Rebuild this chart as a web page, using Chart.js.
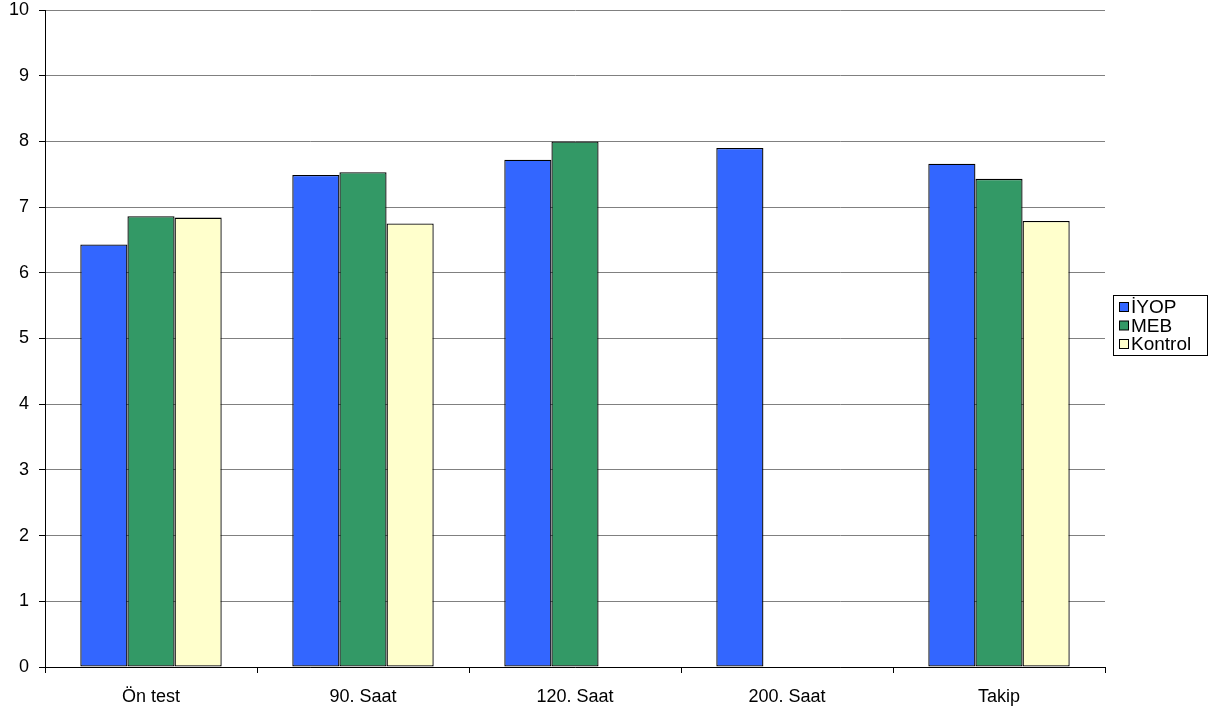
<!DOCTYPE html>
<html>
<head>
<meta charset="utf-8">
<script src="https://cdn.jsdelivr.net/npm/chart.js@4"></script>
<style>
  html, body { margin: 0; padding: 0; background: #fff; }
  #wrap { width: 1210px; height: 713px; }
</style>
</head>
<body>
<div id="wrap"><canvas id="chart"></canvas></div>
<script>
const categories = ["Ön test", "90. Saat", "120. Saat", "200. Saat", "Takip"];
const iyop = [6.43, 7.49, 7.72, 7.90, 7.66];
const meb = [6.86, 7.53, 8.0, null, 7.43];
const kontrol = [6.84, 6.75, null, null, 6.79];
const seriesNames = ["İYOP", "MEB", "Kontrol"];
const seriesColors = ["#3366FF", "#339966", "#FFFFCC"];

const FONT = "'Liberation Sans', Arial, sans-serif";

// legend drawn by hand so the boxed legend sits like the original
const boxLegend = {
  id: "boxLegend",
  afterDraw(chart) {
    const ctx = chart.ctx;
    const x = 1113, y = 295, w = 94, h = 60;
    ctx.save();
    ctx.fillStyle = "#fff";
    ctx.fillRect(x, y, w, h);
    ctx.strokeStyle = "#000";
    ctx.lineWidth = 1;
    ctx.strokeRect(x + 0.5, y + 0.5, w, h);
    ctx.font = "19px " + FONT;
    ctx.textBaseline = "middle";
    chart.data.datasets.forEach((ds, i) => {
      const cy = y + 12 + i * 18.5;
      ctx.fillStyle = ds.backgroundColor;
      ctx.fillRect(x + 6.5, cy - 4.5, 9, 9);
      ctx.strokeStyle = "#000";
      ctx.strokeRect(x + 6.5, cy - 4.5, 9, 9);
      ctx.fillStyle = "#000";
      ctx.fillText(ds.label, x + 18, cy + 1);
    });
    ctx.restore();
  }
};

const data = {
  labels: categories,
  datasets: [iyop, meb, kontrol].map((vals, i) => ({
    label: seriesNames[i],
    data: vals,
    backgroundColor: seriesColors[i],
    borderColor: "#000",
    borderWidth: 1.3,
    borderSkipped: false,
    categoryPercentage: 0.667,
    barPercentage: 1.0
  }))
};

const config = {
  type: "bar",
  data: data,
  options: {
    responsive: false,
    animation: false,
    layout: { padding: { top: 10, right: 105, left: 0, bottom: 0 } },
    plugins: {
      legend: { display: false },
      tooltip: { enabled: false }
    },
    scales: {
      x: {
        afterFit(scale) { scale.height = 46; },
        grid: {
          offset: true,
          drawOnChartArea: false,
          drawTicks: true,
          tickLength: 6,
          color: "#000"
        },
        border: { color: "#000", width: 1 },
        ticks: { color: "#000", font: { family: FONT, size: 18 }, padding: 13 }
      },
      y: {
        min: 0,
        max: 10,
        afterFit(scale) {
          scale.width = 45;
          scale.paddingTop = 0;
          scale.paddingBottom = 0;
        },
        ticks: { stepSize: 1, color: "#000", font: { family: FONT, size: 18 }, padding: 10 },
        grid: { color: "#808080", lineWidth: 1, tickLength: 6, tickColor: "#000" },
        border: { color: "#000", width: 1 }
      }
    }
  },
  plugins: [boxLegend]
};

const canvas = document.getElementById("chart");
canvas.width = 1210;
canvas.height = 713;
const myChart = new Chart(canvas, config);
</script>
</body>
</html>
